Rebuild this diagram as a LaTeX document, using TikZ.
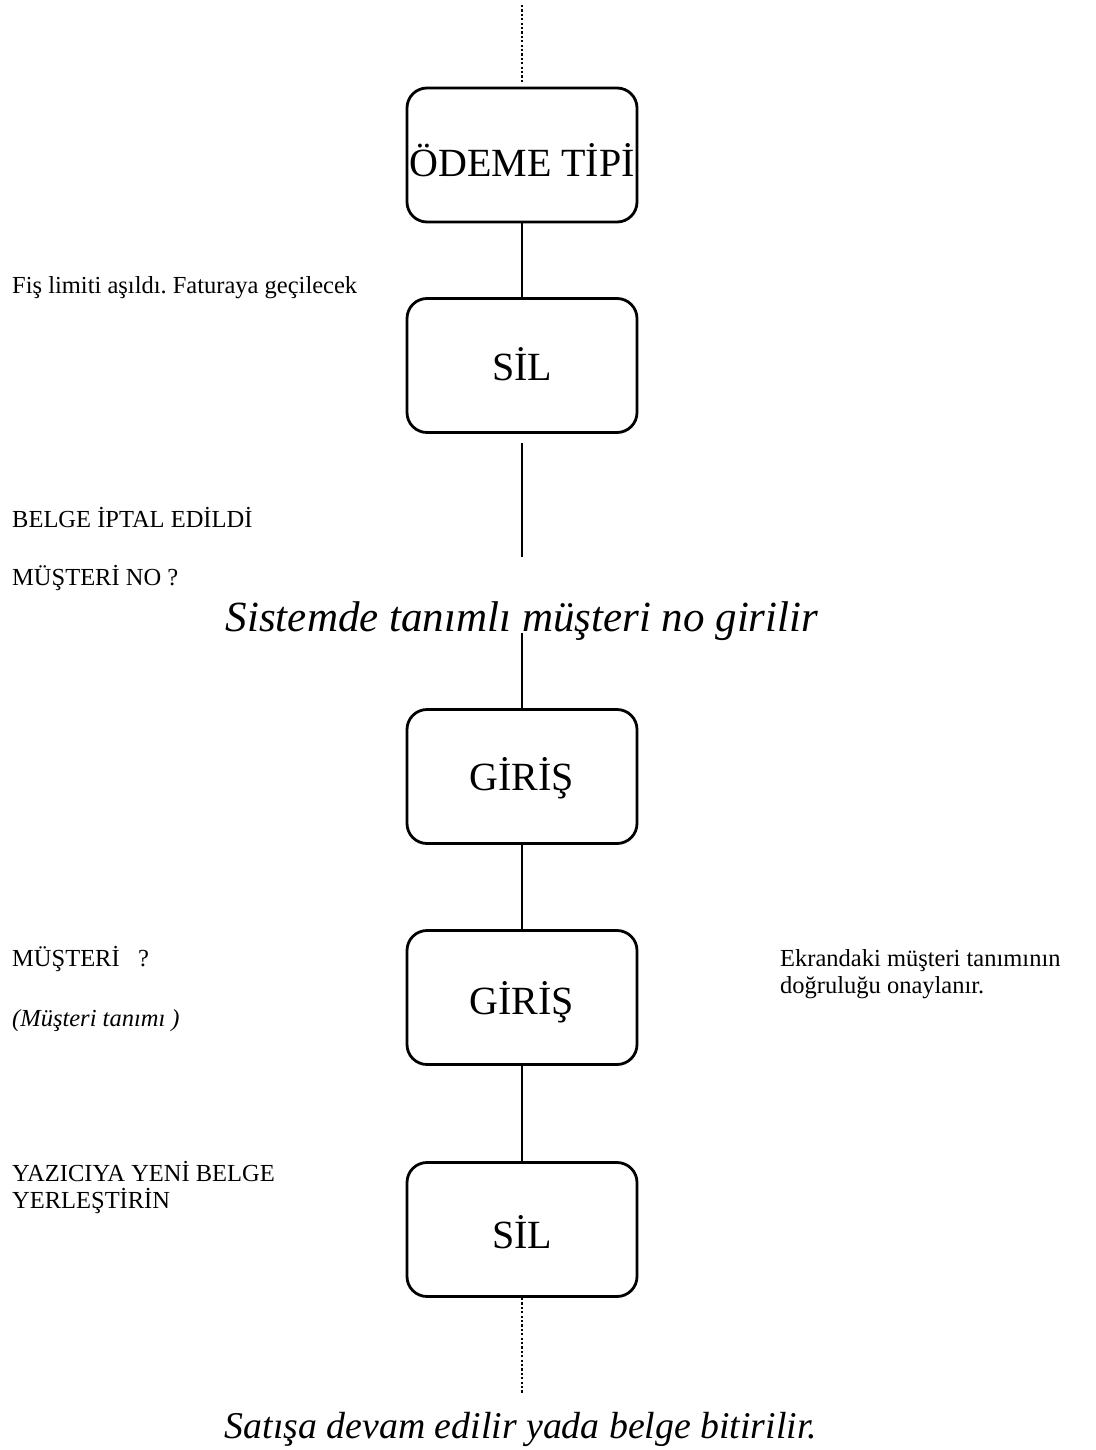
\documentclass[tikz,border=0pt]{standalone}
\usepackage{fontspec}
\setmainfont{Liberation Serif}
\frenchspacing
\begin{document}
\begin{tikzpicture}[x=1pt,y=-1pt,
  box/.style={draw,line width=2.8pt,rounded corners=20pt,minimum width=230pt,minimum height=134pt,inner sep=0pt},
  boxtext/.style={font=\fontsize{40}{44}\selectfont,inner sep=0pt},
  conn/.style={line width=2pt},
  dots/.style={line width=2.6pt,dash pattern=on 2.2pt off 2.2pt},
  small/.style={anchor=base west,inner sep=0pt,font=\fontsize{24.5}{27}\selectfont,align=left},
  big/.style={anchor=base,inner sep=0pt,font=\fontsize{43}{46}\selectfont\itshape},
  bigb/.style={anchor=base,inner sep=0pt,font=\fontsize{37.8}{42}\selectfont\itshape}]
\useasboundingbox (0,0) rectangle (1095,1450);
% boxes
\node[box] (b1) at (522,155) {};
\node[box] (b2) at (522,365.5) {};
\node[box] (b3) at (522,776.5) {};
\node[box] (b4) at (522,997.5) {};
\node[box] (b5) at (522,1229.5) {};
\node[boxtext] (t1x) at ([yshift=-5]b1.center) {ÖDEME TİPİ};
\node[boxtext] (t2x) at ([yshift=1]b2.center) {SİL};
\node[boxtext] (t3x) at ([yshift=-2]b3.center) {GİRİŞ};
\node[boxtext] (t4x) at ([yshift=-5]b4.center) {GİRİŞ};
\node[boxtext] (t5x) at ([yshift=-3]b5.center) {SİL};
% free ends
\coordinate (t0) at (522,5);
\coordinate (t1) at (522,82);
\coordinate (g1) at (522,443);
\coordinate (g2) at (522,557);
\coordinate (g3) at (522,633);
\coordinate (e0) at (522,1393);
% connectors
\draw[dots] (t0) -- (t1);
\draw[conn] (b1.south) -- (b2.north);
\draw[conn] (g1) -- (g2);
\draw[conn] (g3) -- (b3.north);
\draw[conn] (b3.south) -- (b4.north);
\draw[conn] (b4.south) -- (b5.north);
\draw[dots] (b5.south) -- (e0);
% texts
\node[small] (l1) at (12,293) {Fiş limiti aşıldı. Faturaya geçilecek};
\node[small] (l2) at (12,527) {BELGE İPTAL EDİLDİ};
\node[small] (l3) at (12,585) {MÜŞTERİ NO ?};
\node[big] (s1) at (522,631) {Sistemde tanımlı müşteri no girilir};
\node[small] (l4) at (12,966) {MÜŞTERİ\ \ \ ?};
\node[small] (l5) at (12,1026) {\itshape (Müşteri tanımı )};
\node[small] (l6) at (12,1208) {YAZICIYA YENİ BELGE\\YERLEŞTİRİN};
\node[small] (r1) at (780,993) {Ekrandaki müşteri tanımının\\doğruluğu onaylanır.};
\node[bigb] (s2) at (521,1438) {Satışa devam edilir yada belge bitirilir.};
\end{tikzpicture}
\end{document}
